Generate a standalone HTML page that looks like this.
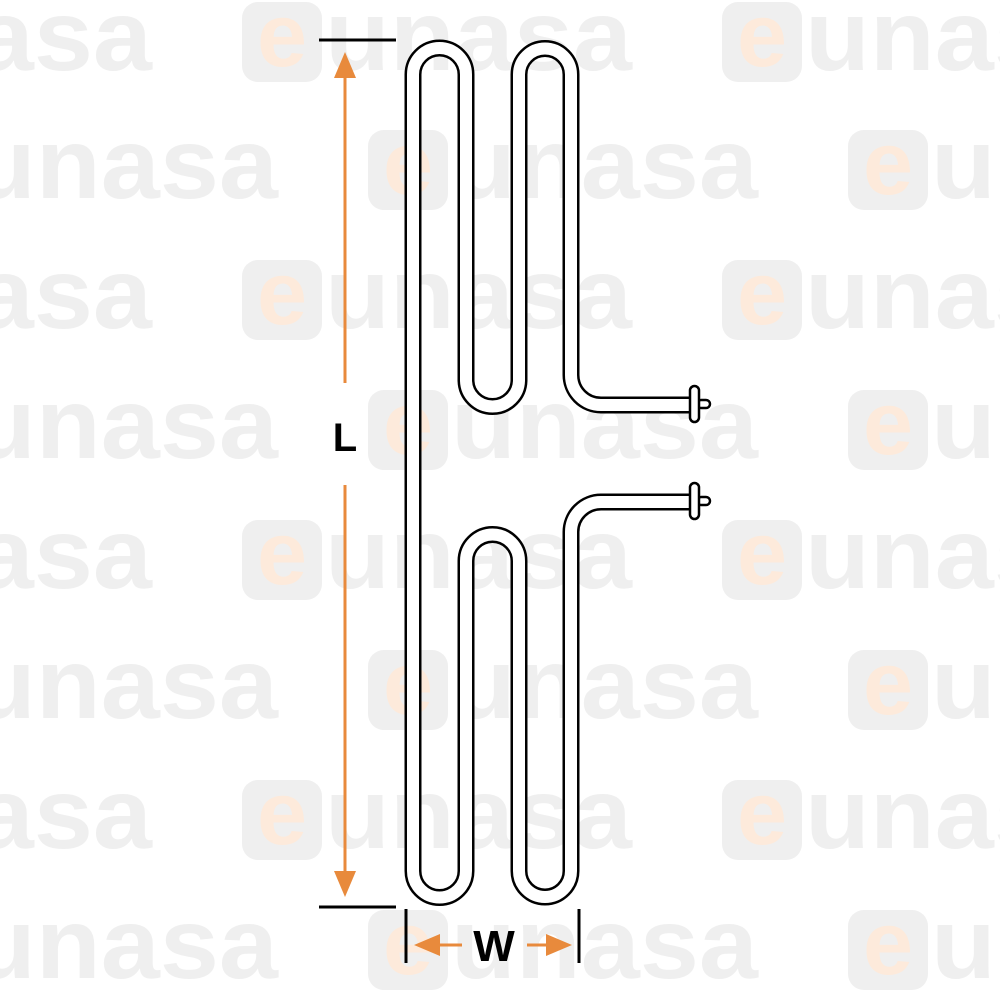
<!DOCTYPE html>
<html><head><meta charset="utf-8"><style>html,body{margin:0;padding:0;background:#fff}svg{display:block}</style></head><body>
<svg width="1000" height="1000" viewBox="0 0 1000 1000" xmlns="http://www.w3.org/2000/svg">
<defs>
<g id="wm">
<rect x="0" y="0" width="80" height="80" rx="16" fill="#efefef"/>
<text x="40" y="64" text-anchor="middle" font-family="Liberation Sans, sans-serif" font-weight="bold" font-size="90" fill="#fdeadb">e</text>
<text x="83" y="68" font-family="Liberation Sans, sans-serif" font-weight="bold" font-size="100" fill="#efefef" textLength="307" lengthAdjust="spacingAndGlyphs">unasa</text>
</g>
</defs>
<g>
<use href="#wm" x="-238" y="2"/><use href="#wm" x="242" y="2"/><use href="#wm" x="722" y="2"/>
<use href="#wm" x="-112" y="130"/><use href="#wm" x="368" y="130"/><use href="#wm" x="848" y="130"/>
<use href="#wm" x="-238" y="260"/><use href="#wm" x="242" y="260"/><use href="#wm" x="722" y="260"/>
<use href="#wm" x="-112" y="390"/><use href="#wm" x="368" y="390"/><use href="#wm" x="848" y="390"/>
<use href="#wm" x="-238" y="520"/><use href="#wm" x="242" y="520"/><use href="#wm" x="722" y="520"/>
<use href="#wm" x="-112" y="650"/><use href="#wm" x="368" y="650"/><use href="#wm" x="848" y="650"/>
<use href="#wm" x="-238" y="780"/><use href="#wm" x="242" y="780"/><use href="#wm" x="722" y="780"/>
<use href="#wm" x="-112" y="910"/><use href="#wm" x="368" y="910"/><use href="#wm" x="848" y="910"/>
</g>
<g fill="none" stroke-linejoin="round">
<path d="M692 405 L601 405 A30 30 0 0 1 571 375 L571 74.5 A26 26 0 0 0 519 74.5 L519 380 A26.5 26.5 0 0 1 466 380 L466 74.5 A26.5 26.5 0 0 0 413 74.5 L413 871 A26.5 26.5 0 0 0 466 871 L466 561 A26.5 26.5 0 0 1 519 561 L519 871 A26 26 0 0 0 571 871 L571 532 A30 30 0 0 1 601 502 L692 502" stroke="#000" stroke-width="17"/>
<path d="M692 405 L601 405 A30 30 0 0 1 571 375 L571 74.5 A26 26 0 0 0 519 74.5 L519 380 A26.5 26.5 0 0 1 466 380 L466 74.5 A26.5 26.5 0 0 0 413 74.5 L413 871 A26.5 26.5 0 0 0 466 871 L466 561 A26.5 26.5 0 0 1 519 561 L519 871 A26 26 0 0 0 571 871 L571 532 A30 30 0 0 1 601 502 L692 502" stroke="#fff" stroke-width="12"/>
</g>
<g fill="#fff" stroke="#000" stroke-width="2.5">
<rect x="697" y="400" width="13" height="8" rx="4"/>
<rect x="690" y="386" width="9" height="36" rx="4.5"/>
<rect x="697" y="497" width="13" height="8" rx="4"/>
<rect x="690" y="483" width="9" height="36" rx="4.5"/>
</g>
<g stroke="#000" stroke-width="3">
<line x1="319" y1="40" x2="396" y2="40"/>
<line x1="319" y1="907" x2="396" y2="907"/>
<line x1="406" y1="909" x2="406" y2="963"/>
<line x1="579" y1="909" x2="579" y2="963"/>
</g>
<g stroke="#e88a3c" stroke-width="3">
<line x1="345" y1="70" x2="345" y2="383"/>
<line x1="345" y1="485" x2="345" y2="880"/>
<line x1="430" y1="945" x2="462" y2="945"/>
<line x1="527" y1="945" x2="556" y2="945"/>
</g>
<g fill="#e88a3c">
<polygon points="345,52 334,78 356,78"/>
<polygon points="345,897 334,871 356,871"/>
<polygon points="414,945 440,934 440,956"/>
<polygon points="572,945 546,934 546,956"/>
</g>
<text x="345" y="451" text-anchor="middle" font-family="Liberation Sans, sans-serif" font-weight="bold" font-size="40" fill="#000">L</text>
<text x="494" y="961" text-anchor="middle" font-family="Liberation Sans, sans-serif" font-weight="bold" font-size="44" fill="#000">W</text>
</svg>
</body></html>
